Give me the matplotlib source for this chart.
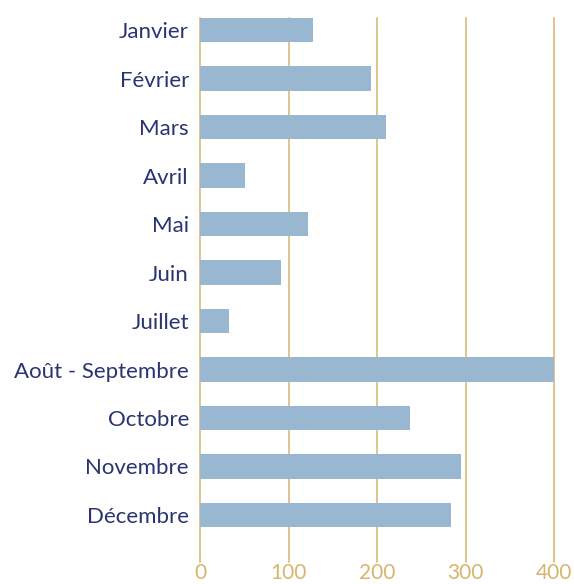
import matplotlib
matplotlib.use("Agg")
import matplotlib.pyplot as plt

months = ["Janvier", "Février", "Mars", "Avril", "Mai", "Juin", "Juillet",
          "Août - Septembre", "Octobre", "Novembre", "Décembre"]
values = [128, 193, 210, 51, 122, 92, 33, 400, 237, 295, 284]
ticks = [0, 100, 200, 300, 400]

navy = "#2a3471"
gold = "#d6b56f"
bar_color = "#99b7d1"

plt.rcParams["font.family"] = ["Lato", "DejaVu Sans"]

fig = plt.figure(figsize=(5.74, 5.84), dpi=100)
ax = fig.add_axes([200 / 574, 22 / 584, 354 / 574, 544 / 584])

ax.barh(range(len(months)), values, height=0.5, color=bar_color, zorder=3)
ax.set_xlim(0, 400)
ax.set_ylim(10.97, -0.25)
ax.set_yticks(range(len(months)))
ax.set_yticklabels(months, color=navy, fontsize=16)
ax.set_xticks(ticks)
ax.set_xticklabels([str(t) for t in ticks], color=gold, fontsize=15)
ax.grid(axis="x", color=gold, linewidth=1.1, zorder=0)
for line in ax.get_xgridlines():
    line.set_clip_on(False)
ax.tick_params(axis="both", length=0)
ax.tick_params(axis="y", pad=8)
ax.tick_params(axis="x", pad=1)
for s in ax.spines.values():
    s.set_visible(False)

fig.savefig("out.png", dpi=100)
